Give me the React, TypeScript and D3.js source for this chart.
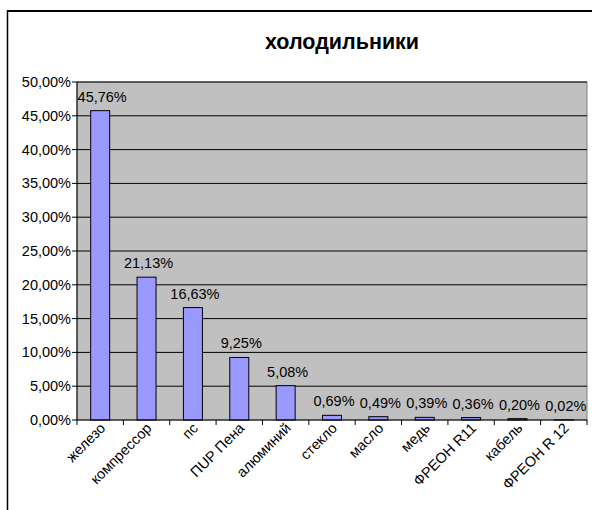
import React from "react";
import * as d3 from "d3";

const categories = ["железо", "компрессор", "пс", "ПUР Пена", "алюминий", "стекло", "масло", "медь", "ФРЕОН R11", "кабель", "ФРЕОН R 12"];
const values = [45.76, 21.13, 16.63, 9.25, 5.08, 0.69, 0.49, 0.39, 0.36, 0.2, 0.02];
const yTicks = [0, 5, 10, 15, 20, 25, 30, 35, 40, 45, 50];
const title = "холодильники";

const fmt = (v: number) => v.toFixed(2).replace(".", ",") + "%";

export default function App() {
  const W = 592, H = 510;
  const left = 77, right = 587, top = 82, bottom = 420;
  const x = d3.scaleBand<string>().domain(categories).range([left, right]).paddingInner(0).paddingOuter(0);
  const y = d3.scaleLinear().domain([0, 50]).range([bottom, top]);
  const bw = x.bandwidth() * 0.41;
  const font = "'Liberation Sans', Arial, sans-serif";
  const fs = 14.5;
  return (
    <svg width={W} height={H} style={{ position: "absolute", left: 0, top: 0, background: "#fff" }} fontFamily={font}>
      <line x1={7} x2={W} y1={11} y2={11} stroke="#000" strokeWidth={2} />
      <line x1={7.5} x2={7.5} y1={10} y2={H} stroke="#000" strokeWidth={1.5} />
      <text x={342} y={49} textAnchor="middle" fontSize={21.5} fontWeight="bold">{title}</text>
      <rect x={left} y={top} width={right - left} height={bottom - top} fill="#C0C0C0" stroke="#808080" strokeWidth={1} />
      {yTicks.map((t) => (
        <g key={t}>
          {t > 0 && <line x1={left} x2={right} y1={y(t)} y2={y(t)} stroke="#000" strokeWidth={1} />}
          <line x1={left - 5} x2={left} y1={y(t)} y2={y(t)} stroke="#000" />
          <text x={left - 6} y={y(t)} dy="0.35em" textAnchor="end" fontSize={fs}>{fmt(t)}</text>
        </g>
      ))}
      {categories.map((c, i) => {
        const cx = (x(c) as number) + x.bandwidth() / 2;
        return (
          <g key={c}>
            <rect x={cx - bw / 2} y={y(values[i])} width={bw} height={bottom - y(values[i])} fill="#9999FF" stroke="#000" strokeWidth={1} />
            <text x={cx + 2} y={y(values[i]) - 9} textAnchor="middle" fontSize={fs}>{fmt(values[i])}</text>
            <text transform={`translate(${cx + 6},${bottom + 9}) rotate(-45)`} textAnchor="end" fontSize={fs}>{c}</text>
          </g>
        );
      })}
      {d3.range(categories.length + 1).map((i) => {
        const xx = left + i * x.step();
        return <line key={i} x1={xx} x2={xx} y1={bottom} y2={bottom + 5} stroke="#000" />;
      })}
      <line x1={left} x2={left} y1={top} y2={bottom} stroke="#000" />
      <line x1={left} x2={right} y1={bottom} y2={bottom} stroke="#000" />
    </svg>
  );
}
